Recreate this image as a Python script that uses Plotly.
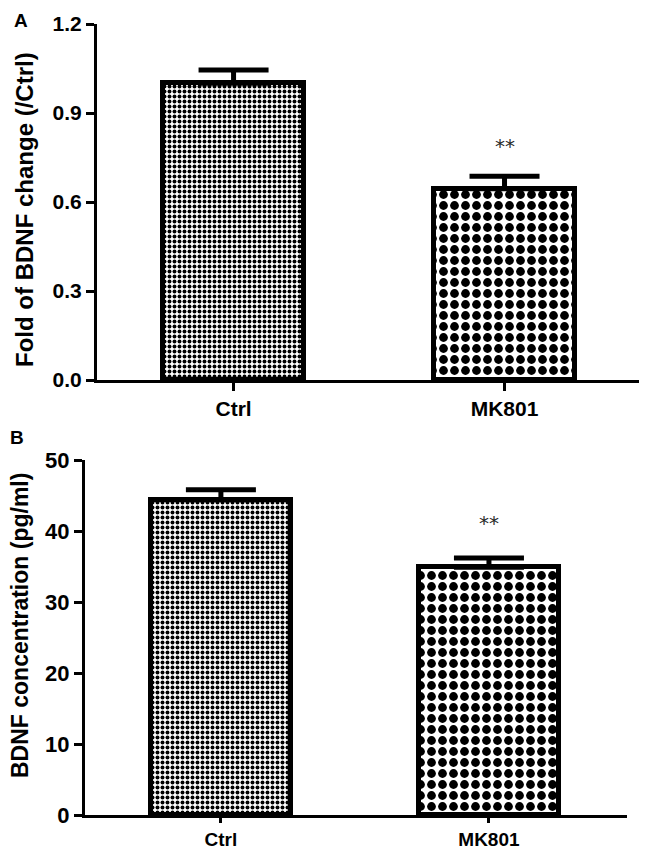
import plotly.graph_objects as go

groups = ["Ctrl", "MK801"]

# panel A: fold of BDNF change
fold_mean = [1.0, 0.645]
fold_sem = [0.045, 0.042]

# panel B: BDNF concentration
conc_mean = [44.4, 34.9]
conc_sem = [1.4, 1.3]

star_label = "**"
fold_star = 0.79
conc_star = 41.1

fold_ticks = [0.0, 0.3, 0.6, 0.9, 1.2]
conc_ticks = [0, 10, 20, 30, 40, 50]

patterns = [dict(shape=".", size=5, solidity=0.5, fgcolor="black", bgcolor="white", fgopacity=1),
            dict(shape=".", size=11, solidity=0.5, fgcolor="black", bgcolor="white", fgopacity=1)]

# page is drawn inside the default 8px body margin, so the figure is 16px smaller
W, H = 639, 842

fig = go.Figure()

for i, g in enumerate(groups):
    fig.add_trace(go.Bar(
        x=[i], y=[fold_mean[i]], width=0.52,
        marker=dict(color="white", line=dict(color="black", width=5), pattern=patterns[i]),
        error_y=dict(type="data", array=[fold_sem[i]], arrayminus=[0], symmetric=False,
                     color="black", thickness=5, width=35),
        xaxis="x", yaxis="y", showlegend=False))
    fig.add_trace(go.Bar(
        x=[i], y=[conc_mean[i]], width=0.52,
        marker=dict(color="white", line=dict(color="black", width=5), pattern=patterns[i]),
        error_y=dict(type="data", array=[conc_sem[i]], arrayminus=[0], symmetric=False,
                     color="black", thickness=5, width=35),
        xaxis="x2", yaxis="y2", showlegend=False))

axis_common = dict(showgrid=False, zeroline=False, showline=True, linecolor="black",
                   linewidth=3, ticks="outside", tickcolor="black", tickwidth=3, ticklen=8,
                   automargin=False)

fig.update_layout(
    width=W, height=H,
    margin=dict(l=0, r=0, t=0, b=0),
    plot_bgcolor="white", paper_bgcolor="white",
    bargap=0,
    font=dict(family="Liberation Sans", color="black"),
    xaxis=dict(axis_common, domain=[89 / W, 632 / W], range=[-0.504, 1.5],
               tickvals=[0, 1], ticktext=["<b>%s</b>" % g for g in groups],
               tickfont=dict(size=21), anchor="y"),
    yaxis=dict(axis_common, domain=[1 - 372 / H, 1 - 16 / H], range=[0, 1.2],
               tickvals=fold_ticks, ticktext=["<b>%.1f</b>" % t for t in fold_ticks],
               tickfont=dict(size=21), anchor="x"),
    xaxis2=dict(axis_common, domain=[77 / W, 619 / W], range=[-0.507, 1.515],
                tickvals=[0, 1], ticktext=["<b>%s</b>" % g for g in groups],
                tickfont=dict(size=19), anchor="y2", ticklen=5),
    yaxis2=dict(axis_common, domain=[1 - 807 / H, 1 - 452 / H], range=[0, 50],
                tickvals=conc_ticks, ticktext=["<b>%d</b>" % t for t in conc_ticks],
                tickfont=dict(size=22), anchor="x2"),
)

# y-axis titles
fig.add_annotation(x=16 / W, y=1 - 202 / H, xref="paper", yref="paper", textangle=-90,
                   xanchor="center", yanchor="middle",
                   text="<b>Fold of BDNF change (/Ctrl)</b>", showarrow=False,
                   font=dict(size=24))
fig.add_annotation(x=12 / W, y=1 - 618 / H, xref="paper", yref="paper", textangle=-90,
                   xanchor="center", yanchor="middle",
                   text="<b>BDNF concentration (pg/ml)</b>", showarrow=False,
                   font=dict(size=23))

fig.add_annotation(x=1, y=fold_star, xref="x", yref="y", text=star_label, showarrow=False,
                   font=dict(size=20, color="#2a2a2a", family="DejaVu Sans"))
fig.add_annotation(x=1, y=conc_star, xref="x2", yref="y2", text=star_label, showarrow=False,
                   font=dict(size=20, color="#2a2a2a", family="DejaVu Sans"))

fig.add_annotation(x=4 / W, y=1, xref="paper", yref="paper", text="<b>A</b>",
                   showarrow=False, xanchor="left", yanchor="top", font=dict(size=19))
fig.add_annotation(x=0, y=1 - 417 / H, xref="paper", yref="paper", text="<b>B</b>",
                   showarrow=False, xanchor="left", yanchor="top", font=dict(size=19))

fig.write_html("out.html")
